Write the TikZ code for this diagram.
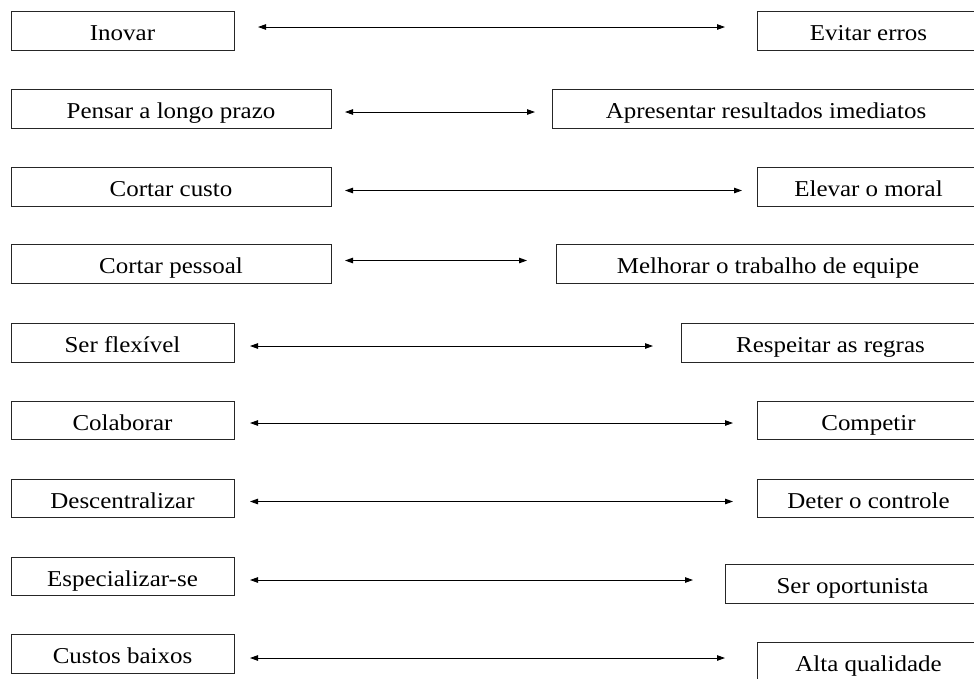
\documentclass[tikz,border=0pt]{standalone}
\usepackage{fontspec}
\setmainfont{Liberation Serif}
\usetikzlibrary{arrows.meta}
\newcommand\sxt[1]{\scalebox{1.1}[1]{#1}}
\tikzset{
  box/.style={draw=black!85, line width=0.9pt, inner sep=0pt, rectangle,
    font=\fontsize{22.7}{26}\selectfont, text height=22pt, text depth=2pt},
  arr/.style={line width=0.9pt, {Triangle[length=8pt,width=5.5pt]}-{Triangle[length=8pt,width=5.5pt]}}
}
\begin{document}
\begin{tikzpicture}[x=1pt,y=-1pt]
\useasboundingbox (0,0) rectangle (974,678);
\clip (0,0) rectangle (974,678);
% left boxes
\node[box, minimum width=223pt, minimum height=39pt] (L1) at (122.5,30.5) {\sxt{Inovar}};
\node[box, minimum width=320pt, minimum height=39pt] (L2) at (171,108.5) {\sxt{Pensar a longo prazo}};
\node[box, minimum width=320pt, minimum height=39pt] (L3) at (171,186.5) {\sxt{Cortar custo}};
\node[box, minimum width=320pt, minimum height=39pt] (L4) at (171,263.5) {\sxt{Cortar pessoal}};
\node[box, minimum width=223pt, minimum height=39pt] (L5) at (122.5,342.5) {\sxt{Ser flexível}};
\node[box, minimum width=223pt, minimum height=38pt] (L6) at (122.5,420) {\sxt{Colaborar}};
\node[box, minimum width=223pt, minimum height=38pt] (L7) at (122.5,498) {\sxt{Descentralizar}};
\node[box, minimum width=223pt, minimum height=38pt] (L8) at (122.5,576) {\sxt{Especializar-se}};
\node[box, minimum width=223pt, minimum height=39pt] (L9) at (122.5,653.5) {\sxt{Custos baixos}};
% right boxes
\node[box, minimum width=223pt, minimum height=39pt] (R1) at (868.5,30.5) {\sxt{Evitar erros}};
\node[box, minimum width=428pt, minimum height=39pt] (R2) at (766,108.5) {\sxt{Apresentar resultados imediatos}};
\node[box, minimum width=223pt, minimum height=39pt] (R3) at (868.5,186.5) {\sxt{Elevar o moral}};
\node[box, minimum width=424pt, minimum height=39pt] (R4) at (768,263.5) {\sxt{Melhorar o trabalho de equipe}};
\node[box, minimum width=299pt, minimum height=39pt] (R5) at (830.5,342.5) {\sxt{Respeitar as regras}};
\node[box, minimum width=223pt, minimum height=38pt] (R6) at (868.5,420) {\sxt{Competir}};
\node[box, minimum width=223pt, minimum height=38pt] (R7) at (868.5,498) {\sxt{Deter o controle}};
\node[box, minimum width=255pt, minimum height=39pt] (R8) at (852.5,583.5) {\sxt{Ser oportunista}};
\node[box, minimum width=223pt, minimum height=39pt] (R9) at (868.5,661.5) {\sxt{Alta qualidade}};
% arrow end points
\coordinate (a1) at (258,27);   \coordinate (b1) at (725,27);
\coordinate (a2) at (345,112);  \coordinate (b2) at (535,112);
\coordinate (a3) at (345,190.5);\coordinate (b3) at (742,190.5);
\coordinate (a4) at (345,260.5);\coordinate (b4) at (527,260.5);
\coordinate (a5) at (250,346);  \coordinate (b5) at (653,346);
\coordinate (a6) at (250,423);  \coordinate (b6) at (733,423);
\coordinate (a7) at (250,501.5);\coordinate (b7) at (733,501.5);
\coordinate (a8) at (250,580);  \coordinate (b8) at (693,580);
\coordinate (a9) at (250,658);  \coordinate (b9) at (725,658);
\foreach \i in {1,...,9} { \draw[arr] (a\i) -- (b\i); }
\end{tikzpicture}
\end{document}
